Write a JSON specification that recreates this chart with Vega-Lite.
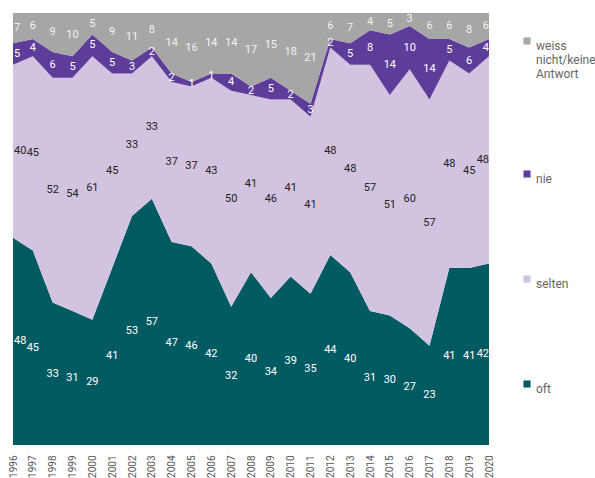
{
  "$schema": "https://vega.github.io/schema/vega-lite/v6.json",
  "width": 476,
  "height": 432,
  "autosize": {"type": "none"},
  "padding": {"left": 13, "top": 13, "right": 106, "bottom": 33},
  "config": {"view": {"stroke": null}, "font": "Roboto"},
  "datasets": {
    "wide": [
      {"year": 1996, "oft": 48, "selten": 40, "nie": 5, "wn": 7},
      {"year": 1997, "oft": 45, "selten": 45, "nie": 4, "wn": 6},
      {"year": 1998, "oft": 33, "selten": 52, "nie": 6, "wn": 9},
      {"year": 1999, "oft": 31, "selten": 54, "nie": 5, "wn": 10},
      {"year": 2000, "oft": 29, "selten": 61, "nie": 5, "wn": 5},
      {"year": 2001, "oft": 41, "selten": 45, "nie": 5, "wn": 9},
      {"year": 2002, "oft": 53, "selten": 33, "nie": 3, "wn": 11},
      {"year": 2003, "oft": 57, "selten": 33, "nie": 2, "wn": 8},
      {"year": 2004, "oft": 47, "selten": 37, "nie": 2, "wn": 14},
      {"year": 2005, "oft": 46, "selten": 37, "nie": 1, "wn": 16},
      {"year": 2006, "oft": 42, "selten": 43, "nie": 1, "wn": 14},
      {"year": 2007, "oft": 32, "selten": 50, "nie": 4, "wn": 14},
      {"year": 2008, "oft": 40, "selten": 41, "nie": 2, "wn": 17},
      {"year": 2009, "oft": 34, "selten": 46, "nie": 5, "wn": 15},
      {"year": 2010, "oft": 39, "selten": 41, "nie": 2, "wn": 18},
      {"year": 2011, "oft": 35, "selten": 41, "nie": 3, "wn": 21},
      {"year": 2012, "oft": 44, "selten": 48, "nie": 2, "wn": 6},
      {"year": 2013, "oft": 40, "selten": 48, "nie": 5, "wn": 7},
      {"year": 2014, "oft": 31, "selten": 57, "nie": 8, "wn": 4},
      {"year": 2015, "oft": 30, "selten": 51, "nie": 14, "wn": 5},
      {"year": 2016, "oft": 27, "selten": 60, "nie": 10, "wn": 3},
      {"year": 2017, "oft": 23, "selten": 57, "nie": 14, "wn": 6},
      {"year": 2018, "oft": 41, "selten": 48, "nie": 5, "wn": 6},
      {"year": 2019, "oft": 41, "selten": 45, "nie": 6, "wn": 8},
      {"year": 2020, "oft": 42, "selten": 48, "nie": 4, "wn": 6}
    ]
  },
  "data": {"name": "wide"},
  "transform": [
    {"fold": ["oft", "selten", "nie", "wn"], "as": ["cat", "value"]},
    {"calculate": "indexof(['oft', 'selten', 'nie', 'wn'], datum.cat)", "as": "stackOrder"}
  ],
  "resolve": {"scale": {"color": "independent"}, "legend": {"color": "independent"}},
  "encoding": {
    "x": {
      "field": "year",
      "type": "quantitative",
      "scale": {"domain": [1996, 2020], "nice": false, "zero": false},
      "axis": {
        "title": null,
        "values": [1996,1997,1998,1999,2000,2001,2002,2003,2004,2005,2006,2007,2008,2009,2010,2011,2012,2013,2014,2015,2016,2017,2018,2019,2020],
        "format": "d",
        "labelAngle": -90,
        "labelAlign": "right",
        "labelBaseline": "middle",
        "labelPadding": 10,
        "labelFontSize": 10,
        "labelColor": "#555555",
        "domain": false,
        "ticks": false,
        "grid": false,
        "labelFlush": false,
        "labelOverlap": false
      }
    },
    "y": {"field": "value", "type": "quantitative", "stack": "zero", "scale": {"domain": [0, 100], "nice": false}, "axis": null},
    "order": {"field": "stackOrder", "type": "quantitative", "sort": "ascending"}
  },
  "layer": [
    {
      "mark": {"type": "area", "opacity": 1},
      "encoding": {
        "color": {
          "field": "cat",
          "type": "nominal",
          "scale": {"domain": ["wn", "nie", "selten", "oft"], "range": ["#a6a6a6", "#5e3c99", "#d2c4e0", "#005a62"]},
          "legend": {
            "title": null,
            "orient": "none",
            "legendX": 508,
            "legendY": 22,
            "symbolType": "square",
            "symbolSize": 50,
            "symbolStrokeWidth": 0,
            "labelFontSize": 12,
            "labelColor": "#666666",
            "labelBaseline": "top",
            "labelOffset": 3,
            "labelExpr": "datum.label == 'wn' ? ['weiss', 'nicht/keine', 'Antwort'] : datum.label",
            "rowPadding": 88,
            "labelLimit": 200
          }
        }
      }
    },
    {
      "transform": [{"filter": "datum.year > 1996 && datum.year < 2020"}],
      "mark": {"type": "text", "fontSize": 11, "align": "center", "baseline": "middle"},
      "encoding": {
        "y": {"field": "value", "type": "quantitative", "stack": "zero", "bandPosition": 0.5},
        "text": {"field": "value", "type": "quantitative"},
        "color": {
          "field": "cat",
          "type": "nominal",
          "scale": {"domain": ["oft", "selten", "nie", "wn"], "range": ["#ffffff", "#222222", "#ffffff", "#f4f4f4"]},
          "legend": null
        }
      }
    },
    {
      "transform": [{"filter": "datum.year == 1996"}],
      "mark": {"type": "text", "fontSize": 11, "align": "left", "dx": 1, "baseline": "middle"},
      "encoding": {
        "y": {"field": "value", "type": "quantitative", "stack": "zero", "bandPosition": 0.5},
        "text": {"field": "value", "type": "quantitative"},
        "color": {
          "field": "cat",
          "type": "nominal",
          "scale": {"domain": ["oft", "selten", "nie", "wn"], "range": ["#ffffff", "#222222", "#ffffff", "#f4f4f4"]},
          "legend": null
        }
      }
    },
    {
      "transform": [{"filter": "datum.year == 2020"}],
      "mark": {"type": "text", "fontSize": 11, "align": "right", "dx": 0, "baseline": "middle"},
      "encoding": {
        "y": {"field": "value", "type": "quantitative", "stack": "zero", "bandPosition": 0.5},
        "text": {"field": "value", "type": "quantitative"},
        "color": {
          "field": "cat",
          "type": "nominal",
          "scale": {"domain": ["oft", "selten", "nie", "wn"], "range": ["#ffffff", "#222222", "#ffffff", "#f4f4f4"]},
          "legend": null
        }
      }
    }
  ]
}
